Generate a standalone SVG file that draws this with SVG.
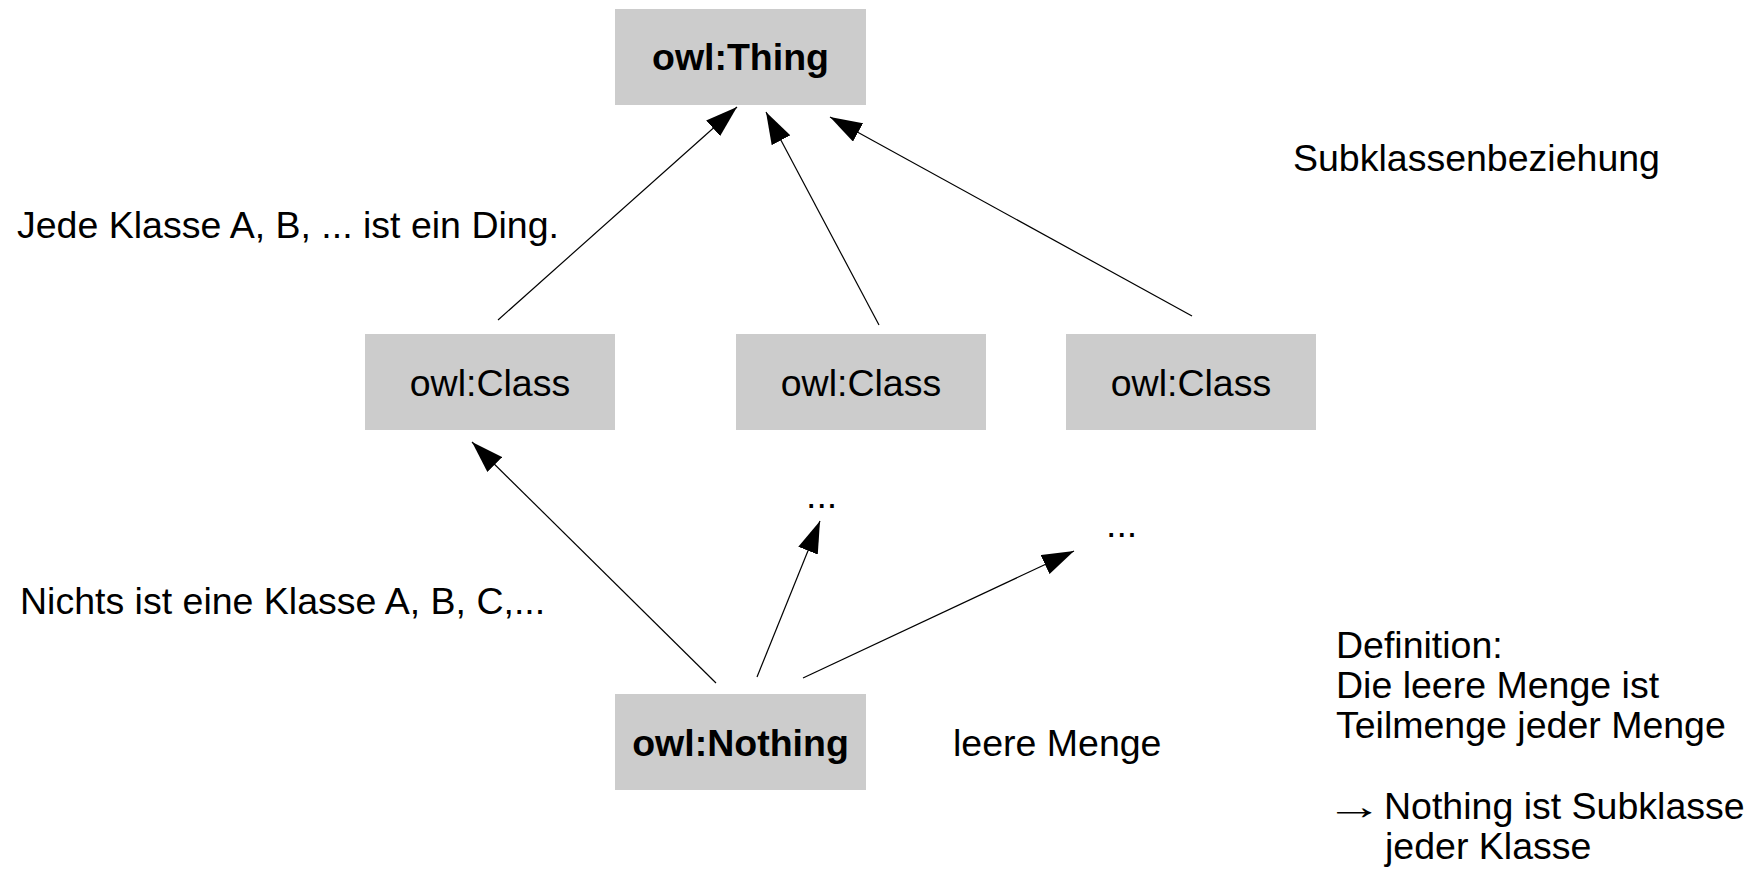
<svg xmlns="http://www.w3.org/2000/svg" width="1763" height="871" viewBox="0 0 1763 871">
<style>
.box{fill:#cccccc;}
.t{font-family:"Liberation Sans",Arial,sans-serif;font-size:37.5px;fill:#000;}
.b{font-weight:bold;}
.c{text-anchor:middle;}
.e{stroke:#000;stroke-width:1.2;fill:none;marker-end:url(#ah);}
</style>
<defs>
<marker id="ah" markerUnits="userSpaceOnUse" markerWidth="32" markerHeight="21" refX="32" refY="10.5" orient="auto">
<path d="M0,0 L32,10.5 L0,21 z" fill="#000"/>
</marker>
</defs>
<rect width="1763" height="871" fill="#fff"/>
<g id="edges">
<line class="e" x1="498" y1="320" x2="737" y2="107"/>
<line class="e" x1="879" y1="325" x2="766" y2="112"/>
<line class="e" x1="1192" y1="316" x2="830" y2="117"/>
<line class="e" x1="716" y1="683" x2="472" y2="442"/>
<line class="e" x1="757" y1="677" x2="820" y2="521"/>
<line class="e" x1="803" y1="678" x2="1074" y2="551"/>
</g>
<g id="thing"><rect class="box" x="615" y="9" width="251" height="96"/><text class="t b c" x="740.5" y="70">owl:Thing</text></g>
<g id="class1"><rect class="box" x="365" y="334" width="250" height="96"/><text class="t c" x="490" y="396">owl:Class</text></g>
<g id="class2"><rect class="box" x="736" y="334" width="250" height="96"/><text class="t c" x="861" y="396">owl:Class</text></g>
<g id="class3"><rect class="box" x="1066" y="334" width="250" height="96"/><text class="t c" x="1191" y="396">owl:Class</text></g>
<g id="nothing"><rect class="box" x="615" y="694" width="251" height="96"/><text class="t b c" x="740.5" y="756">owl:Nothing</text></g>
<g id="labels">
<text class="t" x="806" y="508">...</text>
<text class="t" x="1106" y="537">...</text>
<text class="t" x="17" y="238">Jede Klasse A, B, ... ist ein Ding.</text>
<text class="t" x="20" y="614">Nichts ist eine Klasse A, B, C,...</text>
<text class="t" x="1293" y="171">Subklassenbeziehung</text>
<text class="t" x="953" y="756">leere Menge</text>
<text class="t" x="1336" y="658">Definition:</text>
<text class="t" x="1336" y="698">Die leere Menge ist</text>
<text class="t" x="1336" y="738">Teilmenge jeder Menge</text>
<text class="t" transform="translate(1325,819) scale(1.55,1)" x="0" y="0">→</text>
<text class="t" x="1384" y="819">Nothing ist Subklasse</text>
<text class="t" x="1385" y="859">jeder Klasse</text>
</g>
</svg>
